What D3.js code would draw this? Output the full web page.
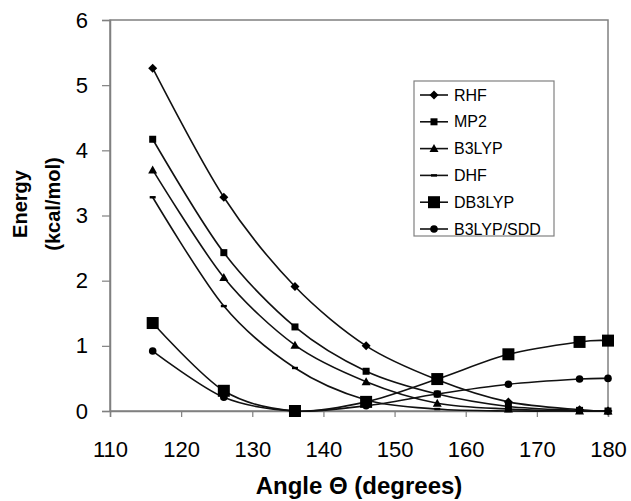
<!DOCTYPE html>
<html>
<head>
<meta charset="utf-8">
<script src="https://cdn.jsdelivr.net/npm/d3@7"></script>
<style>
  body { margin: 0; background: #fff; }
  text { font-family: "Liberation Sans", Arial, sans-serif; fill: #000; }
</style>
</head>
<body>
<div id="chart"></div>
<script>
const width = 631;
const height = 501;

// angles in degrees
const angles = [116, 126, 136, 146, 156, 166, 176, 180];

// energies, kcal/mol
const rhf    = [5.26, 3.28, 1.91, 1.00, 0.48, 0.14, 0.02, 0.00];
const mp2    = [4.17, 2.43, 1.29, 0.61, 0.26, 0.07, 0.01, 0.00];
const b3lyp  = [3.70, 2.05, 1.01, 0.45, 0.12, 0.03, 0.00, 0.00];
const dhf    = [3.28, 1.61, 0.66, 0.17, 0.03, 0.00, 0.00, 0.00];
const db3lyp = [1.35, 0.31, 0.00, 0.14, 0.49, 0.87, 1.06, 1.08];
const sdd    = [0.92, 0.21, 0.00, 0.08, 0.26, 0.41, 0.49, 0.50];

const seriesNames = ["RHF", "MP2", "B3LYP", "DHF", "DB3LYP", "B3LYP/SDD"];
const seriesValues = [rhf, mp2, b3lyp, dhf, db3lyp, sdd];
const markerTypes = ["diamond", "square", "triangle", "dash", "bigsquare", "circle"];

const xTicks = [110, 120, 130, 140, 150, 160, 170, 180];
const yTicks = [0, 1, 2, 3, 4, 5, 6];

const plot = { left: 110, right: 608, top: 20, bottom: 411 };

const x = d3.scaleLinear().domain([110, 180]).range([plot.left, plot.right]);
const y = d3.scaleLinear().domain([0, 6]).range([plot.bottom, plot.top]);

const svg = d3.select("#chart")
  .append("svg")
  .attr("width", width)
  .attr("height", height);

// plot area border
svg.append("rect")
  .attr("x", plot.left)
  .attr("y", plot.top)
  .attr("width", plot.right - plot.left)
  .attr("height", plot.bottom - plot.top)
  .attr("fill", "none")
  .attr("stroke", "#808080")
  .attr("stroke-width", 1.5);

// axes
const xAxis = svg.append("g")
  .attr("transform", `translate(0,${plot.bottom})`)
  .call(d3.axisBottom(x).tickValues(xTicks).tickFormat(d3.format("d")).tickSize(6));

const yAxis = svg.append("g")
  .attr("transform", `translate(${plot.left},0)`)
  .call(d3.axisLeft(y).tickValues(yTicks).tickFormat(d3.format("d")).tickSize(8).tickPadding(14));

[xAxis, yAxis].forEach(g => {
  g.select(".domain").attr("stroke", "#808080").attr("stroke-width", 1.5);
  g.selectAll(".tick line").attr("stroke", "#808080").attr("stroke-width", 1.2);
  g.selectAll(".tick text")
    .style("font-family", "'Liberation Sans', Arial, sans-serif")
    .style("font-size", "22px")
    .attr("fill", "#000");
});
xAxis.selectAll(".tick text").attr("dy", null).attr("y", 46);

// axis titles
svg.append("text")
  .attr("x", (plot.left + plot.right) / 2)
  .attr("y", 494)
  .attr("text-anchor", "middle")
  .style("font-size", "24px")
  .style("font-weight", "bold")
  .text("Angle Θ (degrees)");

const yTitle = svg.append("text")
  .attr("transform", "translate(0,204) rotate(-90)")
  .attr("text-anchor", "middle")
  .style("font-size", "20px")
  .style("font-weight", "bold");
yTitle.append("tspan").attr("x", 0).attr("y", 27).text("Energy");
yTitle.append("tspan").attr("x", 0).attr("y", 60).text("(kcal/mol)");

// lines
const line = d3.line()
  .x(d => x(d[0]))
  .y(d => y(d[1]))
  .curve(d3.curveCardinal.tension(0.1));

svg.append("clipPath").attr("id", "plotclip")
  .append("rect")
  .attr("x", plot.left)
  .attr("y", plot.top)
  .attr("width", plot.right - plot.left)
  .attr("height", plot.bottom - plot.top + 2);

const lines = svg.append("g").attr("clip-path", "url(#plotclip)");

seriesValues.forEach(vals => {
  const pts = angles.map((a, i) => [a, vals[i]]);
  lines.append("path")
    .attr("d", line(pts))
    .attr("fill", "none")
    .attr("stroke", "#111")
    .attr("stroke-width", 1.6);
});

// markers
function drawMarker(g, type, cx, cy) {
  if (type === "diamond") {
    g.append("path")
      .attr("d", `M${cx},${cy - 4.5}L${cx + 4.5},${cy}L${cx},${cy + 4.5}L${cx - 4.5},${cy}Z`)
      .attr("fill", "#000");
  } else if (type === "square") {
    g.append("rect").attr("x", cx - 3.5).attr("y", cy - 3.5)
      .attr("width", 7).attr("height", 7).attr("fill", "#000");
  } else if (type === "triangle") {
    g.append("path")
      .attr("d", `M${cx},${cy - 4.5}L${cx + 4.5},${cy + 3.5}L${cx - 4.5},${cy + 3.5}Z`)
      .attr("fill", "#000");
  } else if (type === "dash") {
    g.append("rect").attr("x", cx - 3).attr("y", cy - 1.2)
      .attr("width", 6).attr("height", 2.4).attr("fill", "#000");
  } else if (type === "bigsquare") {
    g.append("rect").attr("x", cx - 6).attr("y", cy - 6)
      .attr("width", 12).attr("height", 12).attr("fill", "#000");
  } else if (type === "circle") {
    g.append("circle").attr("cx", cx).attr("cy", cy).attr("r", 3.8).attr("fill", "#000");
  }
}

const marks = svg.append("g");
seriesValues.forEach((vals, s) => {
  angles.forEach((a, i) => drawMarker(marks, markerTypes[s], x(a), y(vals[i])));
});

// legend
const legend = svg.append("g").attr("class", "legend");
legend.append("rect")
  .attr("x", 414).attr("y", 81)
  .attr("width", 140).attr("height", 155)
  .attr("fill", "#fff")
  .attr("stroke", "#808080")
  .attr("stroke-width", 1.2);

seriesNames.forEach((name, i) => {
  const ly = 95 + i * 26.8;
  legend.append("line")
    .attr("x1", 420).attr("x2", 448)
    .attr("y1", ly).attr("y2", ly)
    .attr("stroke", "#111").attr("stroke-width", 1.6);
  drawMarker(legend, markerTypes[i], 434, ly);
  legend.append("text")
    .attr("x", 454)
    .attr("y", ly)
    .attr("dy", "0.35em")
    .style("font-size", "16px")
    .text(name);
});
</script>
</body>
</html>
